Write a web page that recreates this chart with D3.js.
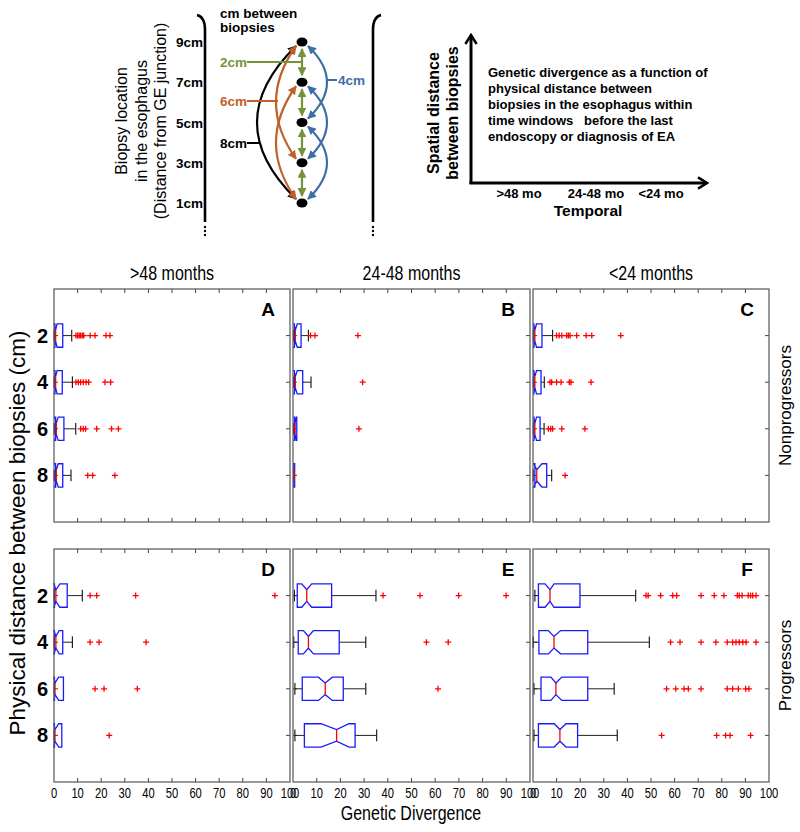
<!DOCTYPE html>
<html><head><meta charset="utf-8">
<script src="https://cdn.jsdelivr.net/npm/d3@7"></script>
<style>
body{margin:0;background:#fff}
svg{display:block}
text{font-family:"Liberation Sans",Arial,sans-serif}
</style>
</head><body>
<svg id="c" width="800" height="832"></svg>
<script>
// ---------------- DATA ----------------
const distances = ["2","4","6","8"];
const timeWindows = [">48 months","24-48 months","<24 months"];
const groups = ["Nonprogressors","Progressors"];
const panelLetters = ["A","B","C","D","E","F"];
const xTicks = [0,10,20,30,40,50,60,70,80,90,100];
// per row (2,4,6,8 cm): [whiskerLo, q1, notchLo, median, notchHi, q3, whiskerHi]
const statsA = [[0.1,0.4,0.2,0.7,1.3,3.7,7.5],[0.1,0.4,0.2,0.7,1.3,3.5,7.8],[0.1,0.7,0.3,1.0,1.8,4.2,9.2],[0.1,0.7,0.3,1.0,1.8,3.7,7.2]];
const outliersA = [[9.3,10.0,10.7,11.3,12.0,12.6,15.3,17.4,22.0,23.7],[9.3,10.3,11.3,12.4,13.6,14.7,21.6,24.0],[11.3,12.4,13.4,18.1,24.4,27.3],[14.3,16.4,25.8]];
const statsB = [[0.3,0.6,0.4,1.0,1.8,3.4,6.5],[0.3,0.6,0.4,1.0,1.8,4.1,7.6],[0.3,0.6,0.5,0.9,1.3,1.6,1.6],[0.3,0.4,0.35,0.5,0.6,0.7,0.7]];
const outliersB = [[7.4,9.3,27.4],[29.4],[27.8],[]];
const statsC = [[0.2,0.4,0.3,0.8,1.5,3.8,8.3],[0.2,0.4,0.3,0.8,1.5,3.4,4.8],[0.2,0.4,0.3,0.8,1.5,3.0,4.7],[0.1,0.8,0.3,1.6,3.8,5.8,7.9]];
const outliersC = [[10,11.1,12.2,14.3,15,15.7,18.5,22.5,24.9,37.2],[7.2,7.9,10,11.9,15.4,16.1,24.6],[6.5,7.5,8.3,12.2,22],[13.6]];
const statsD = [[0.1,0.2,0.0,0.8,2.5,5.6,12],[0.1,0.2,0.0,0.8,2.2,3.7,7.8],[0.1,0.2,0.0,0.4,2.0,4.0,4.0],[0.1,0.2,0.0,0.4,2.0,3.3,3.3]];
const outliersD = [[15.3,18.1,34.6,93.6],[15.3,19.1,39],[17.4,21.2,35.3],[23.4]];
const statsE = [[0.6,1.8,3.7,5.8,7.9,16.3,35],[0.3,2.2,4.4,6.5,8.6,19.5,30.7],[0.8,3.9,10.7,13.6,16.6,21.2,30.7],[0.8,4.8,11.8,18.4,23.6,26.2,35.3]];
const outliersE = [[38,53.6,69.9,89.9],[56.3,65.5],[61.2],[]];
const statsF = [[0.8,2.3,5.1,7.2,8.9,19.9,43.5],[0.1,2.5,6.5,8.9,11.7,23.2,49.3],[0.4,3.4,7.6,9.7,12.2,23.2,34.4],[0.4,2.3,9,11.4,14,18.9,35.7]];
const outliersF = [[47.9,48.8,54.1,59.2,60.9,71.2,76.8,80.9,86.6,87.4,88.6,91.2,92.2,93.1,94.5],[58.3,62.3,71.2,77.5,82.3,84.6,86,87.4,88.9,90.3,94.5],[56.6,60.5,64,65.8,71.2,82.3,84.6,87,90.1,91.5],[54.5,77.8,81.6,83.5,92.2]];
// schematic
const biopsyLocations = [1,3,5,7,9];
const locationLabels = ["1cm","3cm","5cm","7cm","9cm"];
const spacingLabels = ["2cm","4cm","6cm","8cm"];
const temporalLabels = [">48 mo","24-48 mo","<24 mo"];
const descLines = ["Genetic divergence as a function of","physical distance between","biopsies in the esophagus within","time windows   before the last","endoscopy or diagnosis of EA"];

const allStats = [statsA,statsB,statsC,statsD,statsE,statsF];
const allOutliers = [outliersA,outliersB,outliersC,outliersD,outliersE,outliersF];

// ---------------- LAYOUT ----------------
const svg = d3.select("#c");
const colX = [[54,290],[293,530],[533,769]];
const rowY = [[289,522],[549,782]];
const BLUE="#1a1aff", RED="#ff0000";
const NARROW = 0.8;
function narrowText(sel, x, y, size, t){
  return sel.append("text").attr("transform",`translate(${x},${y}) scale(${NARROW},1)`)
    .attr("text-anchor","middle").attr("font-size",size).text(t);
}

// defs
const defs = svg.append("defs");
function tri(id,color){
  defs.append("marker").attr("id",id).attr("viewBox","0 0 10 10").attr("refX",9).attr("refY",5)
   .attr("markerWidth",4).attr("markerHeight",4).attr("orient","auto-start-reverse").attr("markerUnits","strokeWidth")
   .append("path").attr("d","M0,0 L10,5 L0,10 Z").attr("fill",color);
}
const GREEN="#76933c", ORANGE="#c0602a", DBLUE="#3e6ea6";
tri("mG",GREEN); tri("mO",ORANGE); tri("mB",DBLUE); tri("mK","#000");
defs.append("marker").attr("id","chev").attr("viewBox","0 0 12 12").attr("refX",10).attr("refY",6)
  .attr("markerWidth",4.5).attr("markerHeight",4.5).attr("orient","auto").attr("markerUnits","strokeWidth")
  .append("path").attr("d","M2,1 L10,6 L2,11").attr("fill","none").attr("stroke","#000").attr("stroke-width",2.2);

// ---------------- PANELS ----------------
panelLetters.forEach((L,pi)=>{
  const ci = pi%3, ri = Math.floor(pi/3);
  const x = d3.scaleLinear().domain([0,100]).range(colX[ci]);
  const y = d3.scaleLinear().domain([0,5]).range(rowY[ri]);
  const g = svg.append("g");
  const h = y(0.25)-y(0);
  const innerTicks = xTicks.slice(1,-1);
  g.selectAll(".tt").data(innerTicks).join("line")
    .attr("x1",d=>x(d)).attr("x2",d=>x(d)).attr("y1",y(0)).attr("y2",y(0)+4)
    .attr("stroke","#444").attr("stroke-width",1);
  g.selectAll(".tb").data(innerTicks).join("line")
    .attr("x1",d=>x(d)).attr("x2",d=>x(d)).attr("y1",y(5)).attr("y2",y(5)-4)
    .attr("stroke","#444").attr("stroke-width",1);
  distances.forEach((d,i)=>{
    const c=y(i+1);
    g.append("line").attr("x1",x(0)).attr("x2",x(0)+4).attr("y1",c).attr("y2",c).attr("stroke","#444");
    g.append("line").attr("x1",x(100)).attr("x2",x(100)-4).attr("y1",c).attr("y2",c).attr("stroke","#444");
  });
  const st = allStats[pi], ou = allOutliers[pi];
  st.forEach((s,i)=>{
    const [wl,q1,nl,md,nh,q3,wh]=s;
    const c=y(i+1);
    if(wh>q3){
      g.append("line").attr("x1",x(q3)).attr("x2",x(wh)).attr("y1",c).attr("y2",c).attr("stroke","#222").attr("stroke-width",1);
      g.append("line").attr("x1",x(wh)).attr("x2",x(wh)).attr("y1",c-h/2).attr("y2",c+h/2).attr("stroke","#222").attr("stroke-width",1.2);
    }
    if(wl<q1){
      g.append("line").attr("x1",x(wl)).attr("x2",x(q1)).attr("y1",c).attr("y2",c).attr("stroke","#222").attr("stroke-width",1);
      g.append("line").attr("x1",x(wl)).attr("x2",x(wl)).attr("y1",c-h/2).attr("y2",c+h/2).attr("stroke","#222").attr("stroke-width",1.2);
    }
    const pts=[[q1,c-h],[nl,c-h],[md,c-h/2],[nh,c-h],[q3,c-h],[q3,c+h],[nh,c+h],[md,c+h/2],[nl,c+h],[q1,c+h]];
    g.append("path").attr("d","M"+pts.map(p=>x(p[0])+","+p[1]).join("L")+"Z")
      .attr("fill","none").attr("stroke",BLUE).attr("stroke-width",1.3);
    g.append("line").attr("x1",x(md)).attr("x2",x(md)).attr("y1",c-h/2).attr("y2",c+h/2).attr("stroke",RED).attr("stroke-width",1.3);
    g.selectAll(null).data(ou[i]).join("path")
      .attr("d",v=>`M${x(v)-3},${c}h6M${x(v)},${c-3}v6`)
      .attr("stroke",RED).attr("stroke-width",1.3);
  });
  g.append("rect").attr("x",x(0)).attr("y",y(0)).attr("width",x(100)-x(0)).attr("height",y(5)-y(0))
    .attr("fill","none").attr("stroke","#555").attr("stroke-width",1.2);
  g.append("text").attr("x",x(100)-22).attr("y",y(0)+27).attr("text-anchor","middle")
    .attr("font-size",19).attr("font-weight","bold").text(L);
  if(ri===1){
    xTicks.forEach(d=>narrowText(g, x(d), y(5)+16, 14, d));
  }
  if(ci===0){
    g.selectAll(".yl").data(distances).join("text")
      .attr("x",48).attr("y",(d,i)=>y(i+1)+7).attr("text-anchor","end")
      .attr("font-size",20).attr("font-weight","bold").text(d=>d);
  }
  if(ri===0){
    narrowText(g,(x(0)+x(100))/2,280,20,timeWindows[ci]);
  }
  if(ci===2){
    g.append("text").attr("transform",`translate(791,${(y(0)+y(5))/2}) rotate(-90)`)
      .attr("text-anchor","middle").attr("font-size",17).text(groups[ri]);
  }
});
svg.append("text").attr("transform","translate(25,533) rotate(-90)").attr("text-anchor","middle")
  .attr("font-size",22.5).text("Physical distance between biopsies (cm)");
narrowText(svg,411,820,20,"Genetic Divergence");

// ---------------- LEFT SCHEMATIC ----------------
const yLoc = d3.scaleLinear().domain([1,9]).range([203,42]);
const dotX = 302;
const sch = svg.append("g");
[[205,-1],[373,1]].forEach(([bx,dir])=>{
  sch.append("path").attr("d",`M${bx+8*dir},15 Q${bx},17 ${bx},30 L${bx},222`)
    .attr("fill","none").attr("stroke","#000").attr("stroke-width",2.6);
  [227,231,235].forEach(yy=>sch.append("circle").attr("cx",bx).attr("cy",yy).attr("r",1.2).attr("fill","#000"));
});
sch.append("text").attr("x",220).attr("y",18).attr("font-size",13.5).attr("font-weight","bold").text("cm between");
sch.append("text").attr("x",220).attr("y",32).attr("font-size",13.5).attr("font-weight","bold").text("biopsies");
const rot = ["Biopsy location","in the esophagus","(Distance from GE junction)"];
[127,147,166].forEach((bx,i)=>{
  sch.append("text").attr("transform",`translate(${bx},121) rotate(-90)`).attr("text-anchor","middle")
    .attr("font-size",16).text(rot[i]);
});
biopsyLocations.forEach((l,i)=>{
  sch.append("text").attr("x",203).attr("y",yLoc(l)+5).attr("text-anchor","end")
    .attr("font-size",13.5).attr("font-weight","bold").text(locationLabels[i]);
});
biopsyLocations.slice(0,-1).forEach(l=>{
  sch.append("line").attr("x1",dotX).attr("x2",dotX).attr("y1",yLoc(l)-7).attr("y2",yLoc(l+2)+7)
    .attr("stroke",GREEN).attr("stroke-width",2.2).attr("marker-start","url(#mG)").attr("marker-end","url(#mG)");
});
function arc(a,b,side,bulge,color,mk){
  const xs = dotX + side*6;
  const y1=yLoc(a)+(a>b?4:-4), y2=yLoc(b)+(a>b?-4:4);
  const cx = dotX + side*bulge;
  sch.append("path").attr("d",`M${xs},${y1} Q${cx},${(y1+y2)/2} ${xs},${y2}`)
    .attr("fill","none").attr("stroke",color).attr("stroke-width",2.2)
    .attr("marker-start",`url(#${mk})`).attr("marker-end",`url(#${mk})`);
}
arc(9,1,-1,84,"#000","mK");
arc(9,3,-1,46,ORANGE,"mO");
arc(7,1,-1,46,ORANGE,"mO");
arc(9,5,1,44,DBLUE,"mB");
arc(7,3,1,44,DBLUE,"mB");
arc(5,1,1,44,DBLUE,"mB");
biopsyLocations.forEach(l=>{
  sch.append("ellipse").attr("cx",dotX).attr("cy",yLoc(l)).attr("rx",5.5).attr("ry",4.5).attr("fill","#000");
});
const ptr = [[spacingLabels[0],GREEN,220,62,247,dotX],[spacingLabels[2],ORANGE,220,101,247,278],[spacingLabels[3],"#000",220,143,247,259]];
ptr.forEach(([t,col,tx,ty,l1,l2])=>{
  sch.append("text").attr("x",tx).attr("y",ty+5).attr("font-size",13.5).attr("font-weight","bold").attr("fill",col).text(t);
  sch.append("line").attr("x1",l1).attr("x2",l2).attr("y1",ty).attr("y2",ty).attr("stroke",col).attr("stroke-width",2);
});
sch.append("line").attr("x1",327).attr("x2",337).attr("y1",80).attr("y2",80).attr("stroke",DBLUE).attr("stroke-width",2);
sch.append("text").attr("x",338).attr("y",85).attr("font-size",13.5).attr("font-weight","bold").attr("fill",DBLUE).text(spacingLabels[1]);

// ---------------- RIGHT SCHEMATIC ----------------
const rs = svg.append("g");
rs.append("line").attr("x1",471).attr("x2",471).attr("y1",184).attr("y2",35).attr("stroke","#000").attr("stroke-width",3).attr("marker-end","url(#chev)");
rs.append("line").attr("x1",469.5).attr("x2",707).attr("y1",183).attr("y2",183).attr("stroke","#000").attr("stroke-width",3).attr("marker-end","url(#chev)");
[["Spatial distance",439],["between biopsies",458]].forEach(([t,bx])=>{
  rs.append("text").attr("transform",`translate(${bx},113) rotate(-90)`).attr("text-anchor","middle")
    .attr("font-size",16).attr("font-weight","bold").text(t);
});
descLines.forEach((t,i)=>{
  rs.append("text").attr("x",488).attr("y",77+i*16).attr("font-size",13).attr("font-weight","bold")
    .attr("xml:space","preserve").style("white-space","pre").text(t);
});
[519,596,661].forEach((cx,i)=>{
  rs.append("text").attr("x",cx).attr("y",198).attr("text-anchor","middle").attr("font-size",13).attr("font-weight","bold").text(temporalLabels[i]);
});
rs.append("text").attr("x",588).attr("y",216).attr("text-anchor","middle").attr("font-size",15.5).attr("font-weight","bold").text("Temporal");
</script>
</body></html>
